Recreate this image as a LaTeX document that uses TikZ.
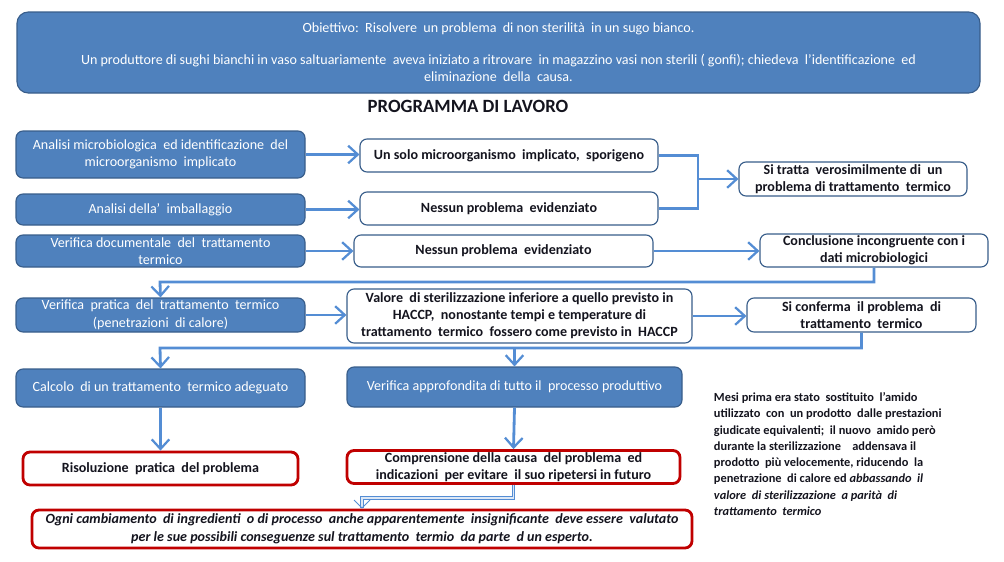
\documentclass[tikz,border=0pt]{standalone}
\usepackage{fontspec}
\setmainfont{Carlito}
\usepackage{xcolor}
\definecolor{boxblue}{RGB}{79,129,189}
\definecolor{edgeblue}{RGB}{56,93,138}
\definecolor{linkblue}{RGB}{84,141,212}
\definecolor{darkred}{RGB}{192,0,0}
\definecolor{inkdark}{RGB}{20,20,30}
\usepackage{tikz}
\usetikzlibrary{arrows.meta,positioning,calc}

\tikzset{
  bluebox/.style={draw=edgeblue, fill=boxblue, rounded corners=5pt, line width=0.8pt,
    text=white, align=center, font=\fontsize{10}{12.5}\selectfont, inner sep=1pt},
  whitebox/.style={draw=edgeblue, fill=white, rounded corners=5pt, line width=0.8pt,
    text=inkdark, align=center, font=\fontsize{10}{12.2}\selectfont\bfseries, inner sep=1pt},
  redbox/.style={draw=darkred, fill=white, rounded corners=5pt, line width=2pt,
    text=inkdark, align=center, font=\fontsize{10}{12.5}\selectfont\bfseries, inner sep=1pt},
  link/.style={draw=linkblue, line width=2pt},
  linkarr/.style={link, -{Straight Barb[length=2.4mm,width=4.4mm,line width=1.6pt]}}
}

\begin{document}
\begin{tikzpicture}[x=0.025cm,y=-0.025cm]
  \useasboundingbox (0,0) rectangle (1004,561);

  % objective
  \node[bluebox, minimum width={963*0.025cm}, minimum height={81*0.025cm},
    rounded corners=8pt] (goal) at (498.5,52.5)
    {Obiettivo:\ \ Risolvere\ \ un problema\ \ di non sterilità\ \ in un sugo bianco.\\[10pt]
     Un produttore di sughi bianchi in vaso saltuariamente\ \ aveva iniziato a ritrovare\ \ in magazzino vasi non sterili ( gonfi); chiedeva\ \ l'identificazione\ \ ed\\
     eliminazione\ \ della\ \ causa.};
  \node[font=\fontsize{13.3}{15}\selectfont\bfseries, text=inkdark] (title) at (468,106) {PROGRAMMA DI LAVORO};

  % left column
  \node[bluebox, minimum width={289*0.025cm}, minimum height={47*0.025cm}] (micro) at (160.5,154.5)
    {Analisi microbiologica\ \ ed identificazione\ \ del\\ microorganismo\ \ implicato};
  \node[bluebox, minimum width={289*0.025cm}, minimum height={31*0.025cm}] (pack) at (160.5,209.5)
    {Analisi della'\ \ imballaggio};
  \node[bluebox, minimum width={289*0.025cm}, minimum height={32*0.025cm}] (docs) at (160.5,251)
    {Verifica documentale\ \ del\ \ trattamento\\ termico};
  \node[bluebox, minimum width={289*0.025cm}, minimum height={34*0.025cm}] (heat) at (160.5,315)
    {Verifica\ \ pratica\ \ del\ \ trattamento\ \ termico\\ (penetrazioni\ \ di calore)};
  \node[bluebox, minimum width={289*0.025cm}, minimum height={38*0.025cm}] (calc) at (160.5,388)
    {Calcolo\ \ di un trattamento\ \ termico adeguato};

  % middle column
  \node[whitebox, minimum width={298*0.025cm}, minimum height={33*0.025cm}] (spore) at (509,155.5)
    {Un solo microorganismo\ \ implicato,\ \ sporigeno};
  \node[whitebox, minimum width={298*0.025cm}, minimum height={33*0.025cm}] (okpack) at (509,208.5)
    {Nessun problema\ \ evidenziato};
  \node[whitebox, minimum width={299*0.025cm}, minimum height={32*0.025cm}] (okdocs) at (503.5,251)
    {Nessun problema\ \ evidenziato};
  \node[whitebox, minimum width={345*0.025cm}, minimum height={54*0.025cm}] (lowF) at (519.5,316)
    {Valore\ \ di sterilizzazione inferiore a quello previsto in\\
     HACCP,\ \ nonostante tempi e temperature di\\
     trattamento\ \ termico\ \ fossero come previsto in\ \ HACCP};
  \node[bluebox, minimum width={335*0.025cm}, minimum height={40*0.025cm}] (process) at (514.5,387)
    {Verifica approfondita di tutto il\ \ processo produttivo};

  % right column
  \node[whitebox, minimum width={228*0.025cm}, minimum height={34*0.025cm}] (likely) at (853,179)
    {Si tratta\ \ verosimilmente di\ \ un\\ problema di trattamento\ \ termico};
  \node[whitebox, minimum width={228*0.025cm}, minimum height={33*0.025cm}] (mismatch) at (874,250.5)
    {Conclusione incongruente con i\\ dati microbiologici};
  \node[whitebox, minimum width={229*0.025cm}, minimum height={34*0.025cm}] (confirm) at (861.5,315)
    {Si conferma\ \ il problema\ \ di\\ trattamento\ \ termico};

  % outcomes
  \node[redbox, minimum width={275*0.025cm}, minimum height={33*0.025cm}] (fix) at (160.5,468.5)
    {Risoluzione\ \ pratica\ \ del problema};
  \node[redbox, minimum width={333*0.025cm}, minimum height={33*0.025cm}] (cause) at (513.5,467)
    {Comprensione della causa\ \ del problema\ \ ed\\ indicazioni\ \ per evitare\ \ il suo ripetersi in futuro};
  \node[redbox, minimum width={660*0.025cm}, minimum height={38*0.025cm},
    font=\fontsize{10}{12.5}\selectfont\bfseries\itshape] (lesson) at (362,529)
    {Ogni cambiamento\ \ di ingredienti\ \ o di processo\ \ anche apparentemente\ \ insignificante\ \ deve essere\ \ valutato\\
     per le sue possibili conseguenze sul trattamento\ \ termio\ \ da parte\ \ d un esperto.};

  % note on the right
  \node[anchor=west, align=left, text=inkdark, font=\fontsize{8.8}{11.6}\selectfont\bfseries] (note) at (709,454)
    {Mesi prima era stato\ \ sostituito\ \ l'amido\\
     utilizzato\ \ con\ \ un prodotto\ \ dalle prestazioni\\
     giudicate equivalenti;\ \ il nuovo\ \ amido però\\
     durante la sterilizzazione\ \ \ \ addensava il\\
     prodotto\ \ più velocemente, riducendo\ \ la\\
     penetrazione\ \ di calore ed \textit{abbassando\ \ il}\\
     \textit{valore\ \ di sterilizzazione\ \ a parità\ \ di}\\
     \textit{trattamento\ \ termico}};

  % junctions
  \coordinate (j1) at (698,179);
  \coordinate (j2) at (160,282);
  \coordinate (j3) at (160,348);
  \coordinate (j4) at (362,498);

  % connectors
  \draw[linkarr] (micro.east) -- (micro.east -| spore.west);
  \draw[linkarr] (pack.east) -- (pack.east -| okpack.west);
  \draw[linkarr] (docs.east) -- (docs.east -| okdocs.west);
  \draw[linkarr] (heat.east) -- (heat.east -| lowF.west);
  \draw[link] (spore.east) -| (j1) |- (okpack.east);
  \draw[linkarr] (j1) -- (likely.west);
  \draw[linkarr] (okdocs.east) -- (okdocs.east -| mismatch.west);
  \draw[linkarr] (mismatch.south) |- (j2) -- (heat.north);
  \draw[linkarr] (lowF.east) -- (lowF.east -| confirm.west);
  \draw[linkarr] (confirm.south) |- (j3) -- (calc.north);
  \draw[linkarr] (process.north |- j3) -- (process.north);
  \draw[linkarr] (calc.south) -- (fix.north);
  \draw[linkarr] (process.south) -- (cause.north);
  \draw[draw=linkblue, line width=0.6pt, double=white!80!linkblue, double distance=1.2pt,
    -{Straight Barb[length=2mm,width=4mm]}] (cause.south) |- (j4) -- (j4 |- lesson.north);
\end{tikzpicture}
\end{document}
